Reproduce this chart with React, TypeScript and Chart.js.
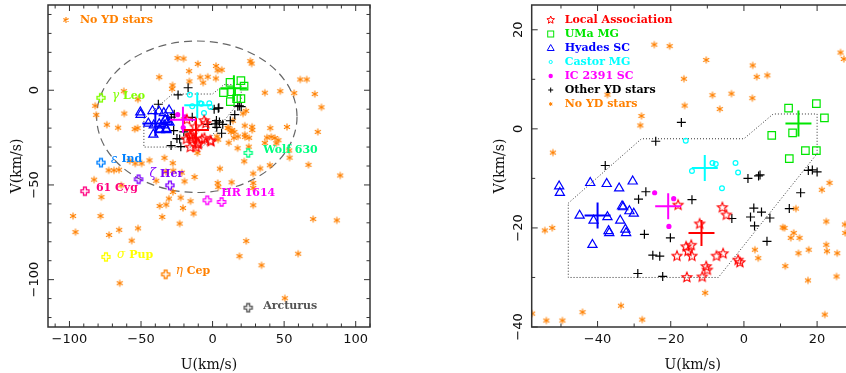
import React, { useEffect, useRef } from 'react';
import { Chart, registerables } from 'chart.js';

Chart.register(...registerables);

// ---------------- Data (U, V in km/s) ----------------
const localAssociation: number[][] = [
  [-18.0, -15.3], [-5.9, -15.8], [-4.8, -17.3], [-12.1, -19.1], [-15.8, -23.7], [-14.4, -23.4],
  [-15.3, -24.6], [-14.2, -25.6], [-18.3, -25.6], [-7.5, -25.6], [-5.7, -25.1], [-10.3, -27.7],
  [-10.0, -28.4], [-1.6, -26.4], [-1.1, -26.9], [-15.6, -29.9], [-11.4, -29.8],
];
const umaMG: number[][] = [
  [12.2, 4.2], [19.8, 5.1], [22.0, 2.2], [7.6, -1.3], [13.3, -0.8], [12.4, -6.0], [16.8, -4.4], [19.8, -4.4],
];
const hyadesSC: number[][] = [
  [-50.5, -11.6], [-50.3, -12.9], [-42.0, -10.9], [-37.5, -11.1], [-34.1, -12.0], [-30.4, -10.6],
  [-44.9, -17.5], [-41.1, -18.5], [-37.3, -17.8], [-33.3, -15.6], [-33.0, -15.8], [-31.3, -16.6],
  [-30.1, -17.1], [-33.8, -18.5], [-37.0, -20.6], [-36.8, -21.0], [-32.4, -20.3], [-32.2, -21.0],
  [-41.4, -23.4],
];
const castorMG: number[][] = [
  [-15.9, -2.4], [-8.6, -6.9], [-7.7, -7.1], [-14.2, -8.5], [-2.3, -6.9], [-1.6, -8.8], [-6.0, -12.0],
];
const ic2391SC: number[][] = [[-24.4, -12.9], [-19.2, -14.1], [-20.5, -19.7]];
const otherYD: number[][] = [
  [-17.1, 1.3], [-24.1, -2.5], [-37.9, -7.4], [-26.8, -12.7], [-28.8, -14.2], [-14.2, -14.3],
  [-27.2, -21.3], [-20.1, -22.0], [-24.9, -25.5], [-23.0, -25.7], [-29.0, -29.2], [-22.2, -29.8],
  [-3.3, -18.1], [1.1, -10.0], [4.0, -9.5], [4.4, -9.3], [2.7, -16.0], [4.8, -16.8], [1.8, -17.8],
  [2.9, -19.6], [7.1, -18.0], [6.3, -22.7], [12.4, -16.1], [15.5, -12.9], [17.6, -8.4], [18.7, -8.3],
  [20.0, -8.7],
];
const noYD: number[][] = [
  [-24.5, 17.0], [-20.3, 16.7], [-10.3, 13.9], [2.4, 12.8], [3.5, 10.5], [6.4, 10.8], [-16.4, 10.1],
  [-8.6, 6.8], [-3.4, 7.1], [2.3, 6.2], [-6.6, 4.0], [-16.2, 4.7], [-28.0, 2.6], [-28.3, 0.7],
  [-37.3, 6.9], [-52.2, -4.8], [-54.4, -20.5], [-52.4, -20.0], [-57.9, -37.3], [-54.0, -38.7],
  [-49.6, -38.7], [-44.1, -37.0], [-33.6, -35.7], [-27.8, -38.5], [-10.6, -33.1], [26.4, 15.4],
  [27.3, 14.1], [23.4, -10.9], [21.3, -12.3], [22.5, -18.7], [14.2, -16.1], [27.6, -19.3],
  [27.7, -21.0], [10.6, -19.9], [11.1, -20.0], [13.6, -21.0], [12.8, -22.0], [15.2, -22.0],
  [14.9, -25.1], [17.7, -24.4], [22.5, -23.4], [22.7, -24.7], [25.5, -25.1], [3.0, -24.4],
  [3.9, -26.1], [11.3, -27.7], [17.5, -30.6], [25.3, -29.8], [22.1, -37.5],
  [36.5, -1.3], [47.3, -0.5], [57.0, -1.5], [61.3, 5.7], [65.8, 5.7], [71.4, -2.0], [76.1, -9.0],
  [73.5, -22.0], [52.0, -19.4], [40.3, -20.0], [38.0, -25.0], [41.0, -24.6], [43.5, -25.2],
  [46.0, -26.4], [44.5, -28.0], [36.5, -27.8], [53.5, -31.8], [53.8, -35.6], [67.0, -39.4],
  [89.2, -45.0], [33.3, -41.3], [40.0, -39.6], [70.3, -68.0], [86.8, -68.7], [34.2, -92.4],
  [59.8, -86.3], [50.5, -109.8],
  [28.4, -44.0], [28.4, -49.0], [28.4, -51.6], [28.4, -60.7], [13.3, -48.6], [5.1, -41.4],
  [3.6, -49.0], [4.0, -51.1], [23.5, -79.6], [18.8, -87.6],
  [-27.5, -42.5], [-21.5, -43.5], [-12.6, -45.8], [-19.6, -48.1], [-39.4, -47.8], [-32.6, -43.1],
  [-27.7, -53.7], [-30.5, -57.2], [-32.4, -60.4], [-37.0, -61.1], [-22.3, -56.7], [-20.7, -62.2],
  [-15.4, -58.6], [-13.3, -65.1], [-35.2, -66.9], [-23.0, -70.4],
  [-62.0, -0.5], [-82.0, -8.2], [-81.3, -13.0], [-61.7, -12.3], [-73.9, -18.2], [-66.0, -19.8],
  [-72.6, -42.3], [-68.9, -42.3], [-65.4, -42.0], [-82.8, -47.2], [-77.7, -56.4], [-78.3, -66.4],
  [-97.5, -66.4], [-95.8, -74.9], [-72.3, -76.4], [-65.3, -73.7], [-64.9, -101.9], [-63.8, -50.2],
  [-52.1, -72.9], [-56.5, -79.4],
];
const laMean = [-11.6, -21.0];
const umaMean = [14.9, 1.1];
const hyadesMean = [-40.0, -17.5];
const castorMean = [-10.7, -7.9];
const icMean = [-20.7, -15.6];

const namedStarNames = ['γ Leo', 'ε Ind', 'ζ Her', '61 Cyg', 'HR 1614', 'Wolf 630', 'σ Pup', 'η Cep', 'Arcturus'];
const namedStarPoints: number[][][] = [
  [[-78.0, -4.0]], [[-78.0, -38.2]], [[-51.7, -47.0], [-29.8, -50.2]], [[-89.2, -53.3]],
  [[-3.7, -58.1], [6.3, -59.0]], [[24.9, -33.1]], [[-74.5, -88.0]], [[-32.8, -97.2]], [[24.9, -114.8]],
];

const ellipseCenter = [-11, -14];
const ellipseSemiAxes = [70, 40];
const boxU = [-48, -28, 0, 8, 20, 20, -7, -48];
const boxV = [-15, -2, -2, 3, 3, -5, -30, -30];

const leftXTicks = [-100, -50, 0, 50, 100];
const leftYTicks = [-100, -50, 0];
const rightXTicks = [-40, -20, 0, 20];
const rightYTicks = [-40, -20, 0, 20];
const legendLabels = ['Local Association', 'UMa MG', 'Hyades SC', 'Castor MG', 'IC 2391 SC', 'Other YD stars', 'No YD stars'];

// ---------------- Styles ----------------
const RED = '#ff0000', GREEN = '#00e600', BLUE = '#0000ff', CYAN = '#00ffff', MAGENTA = '#ff00ff', ORANGE = '#ff8000';
const FRAME = '#333333';
const TICK_FONT = '13px "DejaVu Sans"';
const TITLE_FONT = '14px "DejaVu Serif"';
const LABEL_FONT = 'bold 11px "DejaVu Serif"';
const GREEK_FONT = 'italic 12px "DejaVu Serif"';
const namedStyle: Record<string, { color: string; dx: number; dy: number }> = {
  'γ Leo': { color: '#80ff00', dx: 11, dy: -2 },
  'ε Ind': { color: '#0080ff', dx: 10, dy: -3 },
  'ζ Her': { color: '#8000ff', dx: 11, dy: -5 },
  '61 Cyg': { color: '#ff0080', dx: 11, dy: -3 },
  'HR 1614': { color: '#ff00ff', dx: 14, dy: -7 },
  'Wolf 630': { color: '#00ff80', dx: 15, dy: -3 },
  'σ Pup': { color: '#ffff00', dx: 11, dy: -2 },
  'η Cep': { color: '#ff8000', dx: 10, dy: -3 },
  'Arcturus': { color: '#555555', dx: 15, dy: -2 },
};

// ---------------- Shape helpers ----------------
type G = CanvasRenderingContext2D;
function starPath(g: G, x: number, y: number, r: number) {
  const ri = r * 0.45;
  g.beginPath();
  for (let i = 0; i < 10; i++) {
    const a = -Math.PI / 2 + (i * Math.PI) / 5;
    const rr = i % 2 === 0 ? r : ri;
    const px = x + rr * Math.cos(a), py = y + rr * Math.sin(a);
    if (i === 0) g.moveTo(px, py); else g.lineTo(px, py);
  }
  g.closePath();
}
function asteriskPath(g: G, x: number, y: number, r: number) {
  g.beginPath();
  for (let k = 0; k < 3; k++) {
    const a = Math.PI / 2 + (k * Math.PI) / 3;
    g.moveTo(x + r * Math.cos(a), y + r * Math.sin(a));
    g.lineTo(x - r * Math.cos(a), y - r * Math.sin(a));
  }
}
function openCrossPath(g: G, x: number, y: number, r: number) {
  const a = r * 0.36;
  const pts = [[-a, -r], [a, -r], [a, -a], [r, -a], [r, a], [a, a], [a, r], [-a, r], [-a, a], [-r, a], [-r, -a], [-a, -a]];
  g.beginPath();
  pts.forEach(([px, py], i) => (i === 0 ? g.moveTo(x + px, y + py) : g.lineTo(x + px, y + py)));
  g.closePath();
}
function trianglePath(g: G, x: number, y: number, r: number) {
  g.beginPath();
  g.moveTo(x, y - r);
  g.lineTo(x + r * 0.866, y + r * 0.5);
  g.lineTo(x - r * 0.866, y + r * 0.5);
  g.closePath();
}
function makeImg(size: number, draw: (g: G, c: number) => void) {
  const cv = document.createElement('canvas');
  cv.width = size;
  cv.height = size;
  const g = cv.getContext('2d')!;
  draw(g, size / 2);
  return cv;
}

function fmt(v: number) {
  return v < 0 ? '\u2212' + Math.abs(v) : String(v);
}

function drawLabel(ctx: G, text: string, x: number, y: number, color: string) {
  ctx.fillStyle = color;
  ctx.textBaseline = 'middle';
  ctx.textAlign = 'left';
  const parts = text.split(' ');
  if (/^[\u0370-\u03ff]$/.test(parts[0])) {
    ctx.font = GREEK_FONT;
    ctx.fillText(parts[0], x, y);
    x += ctx.measureText(parts[0]).width + 4;
    ctx.font = LABEL_FONT;
    ctx.fillText(parts.slice(1).join(' '), x, y);
  } else {
    ctx.font = LABEL_FONT;
    ctx.fillText(text, x, y);
  }
}

function makePlugin(isLeft: boolean) {
  const xMajor = isLeft ? leftXTicks : rightXTicks;
  const yMajor = isLeft ? leftYTicks : rightYTicks;
  return {
    id: 'decor' + (isLeft ? 'L' : 'R'),
    beforeDatasetsDraw(chart: any) {
      const { ctx, chartArea: a, scales } = chart;
      const x = scales.x, y = scales.y;
      ctx.save();
      ctx.beginPath();
      ctx.rect(a.left, a.top, a.right - a.left, a.bottom - a.top);
      ctx.clip();
      if (isLeft) {
        const cx = x.getPixelForValue(ellipseCenter[0]);
        const cy = y.getPixelForValue(ellipseCenter[1]);
        const rx = Math.abs(x.getPixelForValue(ellipseCenter[0] + ellipseSemiAxes[0]) - cx);
        const ry = Math.abs(y.getPixelForValue(ellipseCenter[1] + ellipseSemiAxes[1]) - cy);
        ctx.strokeStyle = '#666666';
        ctx.lineWidth = 1.2;
        ctx.setLineDash([8, 5]);
        ctx.beginPath();
        ctx.ellipse(cx, cy, rx, ry, 0, 0, Math.PI * 2);
        ctx.stroke();
      }
      ctx.strokeStyle = '#333333';
      ctx.lineWidth = 1;
      ctx.setLineDash([1, 2]);
      ctx.beginPath();
      boxU.forEach((u, i) => {
        const px = x.getPixelForValue(u), py = y.getPixelForValue(boxV[i]);
        if (i === 0) ctx.moveTo(px, py); else ctx.lineTo(px, py);
      });
      ctx.closePath();
      ctx.stroke();
      ctx.restore();
    },
    afterDraw(chart: any) {
      const { ctx, chartArea: a, scales } = chart;
      const x = scales.x, y = scales.y;
      ctx.save();
      // frame
      ctx.strokeStyle = FRAME;
      ctx.lineWidth = 1.5;
      ctx.strokeRect(a.left, a.top, a.right - a.left, a.bottom - a.top);
      ctx.lineWidth = 1;
      ctx.beginPath();
      for (let v = Math.ceil(x.min / 10) * 10; v <= x.max; v += 10) {
        const px = x.getPixelForValue(v);
        const len = xMajor.includes(v) ? 6 : 3.5;
        ctx.moveTo(px, a.bottom); ctx.lineTo(px, a.bottom - len);
        ctx.moveTo(px, a.top); ctx.lineTo(px, a.top + len);
      }
      for (let v = Math.ceil(y.min / 10) * 10; v <= y.max; v += 10) {
        const py = y.getPixelForValue(v);
        const len = yMajor.includes(v) ? 6 : 3.5;
        ctx.moveTo(a.left, py); ctx.lineTo(a.left + len, py);
        ctx.moveTo(a.right, py); ctx.lineTo(a.right - len, py);
      }
      ctx.stroke();
      // tick labels
      ctx.fillStyle = '#111111';
      ctx.font = TICK_FONT;
      ctx.textAlign = 'center';
      ctx.textBaseline = 'middle';
      xMajor.forEach((v) => ctx.fillText(fmt(v), x.getPixelForValue(v), a.bottom + 13));
      yMajor.forEach((v) => {
        ctx.save();
        ctx.translate(a.left - 13, y.getPixelForValue(v));
        ctx.rotate(-Math.PI / 2);
        ctx.fillText(fmt(v), 0, 0);
        ctx.restore();
      });
      // axis titles
      ctx.font = TITLE_FONT;
      ctx.fillText('U(km/s)', (a.left + a.right) / 2, a.bottom + 38);
      ctx.save();
      ctx.translate(a.left - 31, (a.top + a.bottom) / 2);
      ctx.rotate(-Math.PI / 2);
      ctx.fillText('V(km/s)', 0, 0);
      ctx.restore();

      if (isLeft) {
        ctx.strokeStyle = ORANGE;
        ctx.lineWidth = 1.1;
        asteriskPath(ctx, a.left + 18, a.top + 15, 3);
        ctx.stroke();
        drawLabel(ctx, 'No YD stars', a.left + 32, a.top + 15, ORANGE);
        namedStarNames.forEach((name, i) => {
          const st = namedStyle[name];
          const p = namedStarPoints[i][0];
          drawLabel(ctx, name, x.getPixelForValue(p[0]) + st.dx, y.getPixelForValue(p[1]) + st.dy, st.color);
        });
      } else {
        const colors = [RED, GREEN, BLUE, CYAN, MAGENTA, '#000000', ORANGE];
        legendLabels.forEach((lab, i) => {
          const sx = a.left + 19, sy = a.top + 15 + i * 14;
          ctx.strokeStyle = colors[i];
          ctx.fillStyle = colors[i];
          ctx.lineWidth = 1;
          if (i === 0) { starPath(ctx, sx, sy, 4); ctx.stroke(); }
          if (i === 1) { ctx.strokeRect(sx - 3, sy - 3, 6, 6); }
          if (i === 2) { trianglePath(ctx, sx, sy + 0.5, 4); ctx.stroke(); }
          if (i === 3) { ctx.beginPath(); ctx.arc(sx, sy, 1.6, 0, Math.PI * 2); ctx.stroke(); }
          if (i === 4) { ctx.beginPath(); ctx.arc(sx, sy, 2.2, 0, Math.PI * 2); ctx.fill(); }
          if (i === 5) { ctx.beginPath(); ctx.moveTo(sx - 2.5, sy); ctx.lineTo(sx + 2.5, sy); ctx.moveTo(sx, sy - 2.5); ctx.lineTo(sx, sy + 2.5); ctx.stroke(); }
          if (i === 6) { asteriskPath(ctx, sx, sy, 2); ctx.stroke(); }
          drawLabel(ctx, lab, a.left + 33, sy, colors[i]);
        });
      }
      ctx.restore();
    },
  };
}

function buildConfig(isLeft: boolean): any {
  const toPts = (arr: number[][]) => arr.map(([u, v]) => ({ x: u, y: v }));
  const asterImg = makeImg(10, (g, c) => { g.strokeStyle = ORANGE; g.lineWidth = 1.1; asteriskPath(g, c, c, 3.5); g.stroke(); });
  const starImg = makeImg(14, (g, c) => { g.strokeStyle = RED; g.lineWidth = 1.1; starPath(g, c, c + 0.5, 5.2); g.stroke(); });
  const base = { clip: 0, showLine: false };
  const layers: any[] = [
    { ...base, label: 'No YD stars', data: toPts(noYD), pointStyle: asterImg, pointRadius: 4 },
    { ...base, label: 'Other YD stars', data: toPts(otherYD), pointStyle: 'cross', pointRadius: 4.5, borderColor: '#000', borderWidth: 1.2 },
    { ...base, label: 'Hyades SC', data: toPts(hyadesSC), pointStyle: 'triangle', pointRadius: 5.3, borderColor: BLUE, backgroundColor: 'rgba(0,0,0,0)', borderWidth: 1.2 },
    { ...base, label: 'Castor MG', data: toPts(castorMG), pointStyle: 'circle', pointRadius: 2.4, borderColor: CYAN, backgroundColor: 'rgba(0,0,0,0)', borderWidth: 1.2 },
    { ...base, label: 'IC 2391 SC', data: toPts(ic2391SC), pointStyle: 'circle', pointRadius: 2.6, borderColor: MAGENTA, backgroundColor: MAGENTA, borderWidth: 0 },
    { ...base, label: 'UMa MG', data: toPts(umaMG), pointStyle: 'rect', pointRadius: 5.3, borderColor: GREEN, backgroundColor: 'rgba(0,0,0,0)', borderWidth: 1.2 },
    { ...base, label: 'Local Association', data: toPts(localAssociation), pointStyle: starImg, pointRadius: 5 },
  ];
  const means = [laMean, umaMean, hyadesMean, castorMean, icMean];
  const meanColors = [RED, GREEN, BLUE, CYAN, MAGENTA];
  means.forEach((m, i) => {
    layers.push({ ...base, label: 'mean' + i, data: [{ x: m[0], y: m[1] }], pointStyle: 'cross', pointRadius: 13, borderColor: meanColors[i], borderWidth: 2 });
  });
  if (isLeft) {
    namedStarNames.forEach((name, i) => {
      const col = namedStyle[name].color;
      const img = makeImg(12, (g, c) => { g.strokeStyle = col; g.lineWidth = 1.3; openCrossPath(g, c, c, 4); g.stroke(); });
      layers.push({ ...base, label: name, data: toPts(namedStarPoints[i]), pointStyle: img, pointRadius: 4 });
    });
  }
  const datasets = layers.slice().reverse();
  return {
    type: 'scatter',
    data: { datasets },
    options: {
      animation: false,
      responsive: false,
      events: [],
      layout: isLeft
        ? { autoPadding: false, padding: { left: 48, top: 5, right: 60, bottom: 46 } }
        : { autoPadding: false, padding: { left: 101.7, top: 5, right: 6.3, bottom: 46 } },
      scales: isLeft
        ? { x: { type: 'linear', min: -115, max: 110, display: false }, y: { type: 'linear', min: -125, max: 45, display: false } }
        : { x: { type: 'linear', min: -58, max: 30, display: false }, y: { type: 'linear', min: -40, max: 25, display: false } },
      plugins: { legend: { display: false }, tooltip: { enabled: false } },
    },
    plugins: [makePlugin(isLeft)],
  };
}

export default function App() {
  const leftRef = useRef<HTMLCanvasElement>(null);
  const rightRef = useRef<HTMLCanvasElement>(null);
  useEffect(() => {
    const c1 = new Chart(leftRef.current!, buildConfig(true));
    const c2 = new Chart(rightRef.current!, buildConfig(false));
    return () => {
      c1.destroy();
      c2.destroy();
    };
  }, []);
  return (
    <div style={{ position: 'absolute', left: 0, top: 0, width: 846, height: 373, overflow: 'hidden', background: '#ffffff' }}>
      <canvas ref={leftRef} width={430} height={373} style={{ position: 'absolute', left: 0, top: 0 }} />
      <canvas ref={rightRef} width={430} height={373} style={{ position: 'absolute', left: 430, top: 0 }} />
    </div>
  );
}
